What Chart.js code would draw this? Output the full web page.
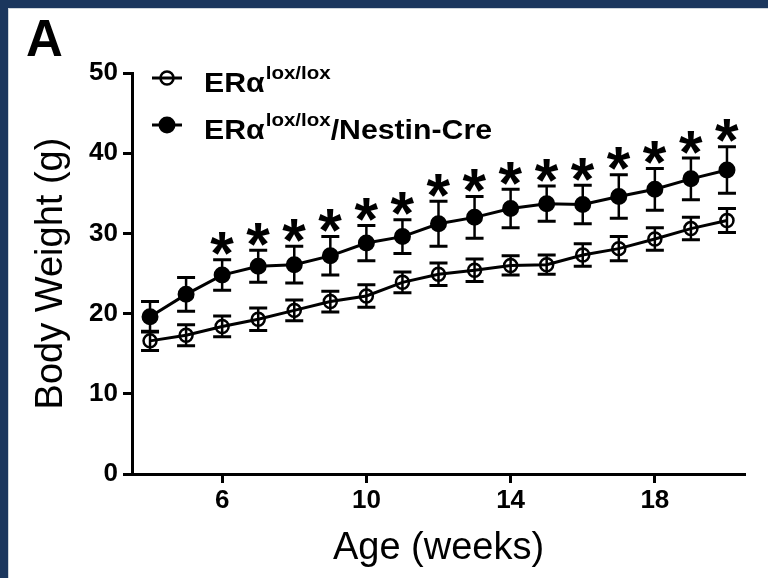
<!DOCTYPE html>
<html>
<head>
<meta charset="utf-8">
<script src="https://cdn.jsdelivr.net/npm/chart.js@4/dist/chart.umd.min.js"></script>
<style>
  html, body { margin: 0; padding: 0; }
  body { width: 768px; height: 578px; background: #1b365d; position: relative; overflow: hidden; }
  #panel { position: absolute; left: 8px; top: 8px; width: 760px; height: 570px; background: #fff; border-left: 1px solid #cfd5dc; border-top: 1px solid #cfd5dc; box-sizing: border-box; }
  #c { position: absolute; left: 0; top: 0; }
</style>
</head>
<body>
<div id="panel"></div>
<canvas id="c" width="768" height="578"></canvas>
<script>
// ---- data ----
const weeks = [4, 5, 6, 7, 8, 9, 10, 11, 12, 13, 14, 15, 16, 17, 18, 19, 20];
const ctrlMean = [16.6, 17.3, 18.4, 19.3, 20.4, 21.5, 22.2, 23.9, 24.9, 25.4, 26.0, 26.1, 27.3, 28.1, 29.3, 30.6, 31.6];
const ctrlErr  = [1.2, 1.3, 1.3, 1.4, 1.3, 1.3, 1.4, 1.3, 1.4, 1.4, 1.2, 1.2, 1.4, 1.5, 1.4, 1.4, 1.5];
const creMean  = [19.6, 22.4, 24.8, 25.9, 26.1, 27.2, 28.8, 29.6, 31.2, 32.0, 33.1, 33.7, 33.6, 34.6, 35.5, 36.8, 37.9];
const creErr   = [1.9, 2.1, 1.9, 2.0, 2.3, 2.4, 2.2, 2.1, 2.8, 2.6, 2.4, 2.2, 2.4, 2.7, 2.6, 2.6, 2.9];
const significant = [false, false, true, true, true, true, true, true, true, true, true, true, true, true, true, true, true];
const xTickValues = [6, 10, 14, 18];
const yTickValues = [0, 10, 20, 30, 40, 50];
const seriesNames = ['ERα', 'ERα'];
const seriesSup = ['lox/lox', 'lox/lox'];
const seriesSuffix = ['', '/Nestin-Cre'];
const panelLabel = 'A';
const xTitle = 'Age (weeks)';
const yTitle = 'Body Weight (g)';

const FONT = "'Liberation Sans', Arial, Helvetica, sans-serif";

const errorBars = {
  id: 'errorBars',
  beforeDatasetsDraw(chart) {
    const ctx = chart.ctx;
    const y = chart.scales.y;
    chart.data.datasets.forEach((ds, di) => {
      const meta = chart.getDatasetMeta(di);
      meta.data.forEach((pt, i) => {
        const v = ds.data[i].y, e = ds.errors[i];
        const yt = y.getPixelForValue(v + e), yb = y.getPixelForValue(v - e);
        ctx.save();
        ctx.strokeStyle = '#000';
        ctx.lineWidth = 2.5;
        ctx.beginPath();
        ctx.moveTo(pt.x, yt); ctx.lineTo(pt.x, yb);
        ctx.stroke();
        ctx.lineWidth = 3;
        ctx.beginPath();
        ctx.moveTo(pt.x - 9, yt); ctx.lineTo(pt.x + 9, yt);
        ctx.moveTo(pt.x - 9, yb); ctx.lineTo(pt.x + 9, yb);
        ctx.stroke();
        ctx.restore();
      });
    });
  },
  afterDatasetsDraw(chart) {
    const ctx = chart.ctx;
    const y = chart.scales.y;
    const ds = chart.data.datasets[1];
    const meta = chart.getDatasetMeta(1);
    ctx.save();
    ctx.font = 'bold 100px ' + FONT;
    let m = ctx.measureText('*');
    const h100 = m.actualBoundingBoxAscent + m.actualBoundingBoxDescent;
    const size = 100 * 23 / h100;
    ctx.font = 'bold ' + size + 'px ' + FONT;
    m = ctx.measureText('*');
    const inkMid = (m.actualBoundingBoxAscent - m.actualBoundingBoxDescent) / 2;
    const inkCx = (m.actualBoundingBoxRight - m.actualBoundingBoxLeft) / 2;
    ctx.fillStyle = '#000';
    ctx.textBaseline = 'alphabetic';
    ctx.textAlign = 'left';
    meta.data.forEach((pt, i) => {
      if (!ds.sig[i]) return;
      const capTop = y.getPixelForValue(ds.data[i].y + ds.errors[i]);
      const cy = capTop - 16;
      ctx.fillText('*', pt.x - inkCx, cy + inkMid);
    });
    ctx.restore();
  },
  afterDraw(chart) {
    const ctx = chart.ctx;
    ctx.save();
    // panel label
    ctx.fillStyle = '#000';
    ctx.font = 'bold 51px ' + FONT;
    ctx.textBaseline = 'alphabetic';
    ctx.textAlign = 'left';
    ctx.fillText(panelLabel, 26, 56);
    // legend
    const rows = [78, 125];
    const sx = 1.08;
    rows.forEach((ry, r) => {
      const ds = chart.data.datasets[r];
      ctx.strokeStyle = '#000';
      ctx.lineWidth = 3;
      ctx.beginPath();
      ctx.moveTo(152, ry); ctx.lineTo(182, ry);
      ctx.stroke();
      ctx.beginPath();
      ctx.arc(167, ry, ds.pointRadius, 0, Math.PI * 2);
      if (r === 1) { ctx.fillStyle = '#000'; ctx.fill(); }
      ctx.lineWidth = ds.pointBorderWidth;
      ctx.stroke();
      ctx.fillStyle = '#000';
      const base = ry + 14;
      ctx.save();
      ctx.scale(sx, 1);
      ctx.font = 'bold 28px ' + FONT;
      let x = 204 / sx;
      ctx.fillText(seriesNames[r], x, base);
      x += ctx.measureText(seriesNames[r]).width + 1;
      ctx.font = 'bold 19px ' + FONT;
      ctx.fillText(seriesSup[r], x, base - 13);
      x += ctx.measureText(seriesSup[r]).width;
      if (seriesSuffix[r]) {
        ctx.font = 'bold 28px ' + FONT;
        ctx.fillText(seriesSuffix[r], x, base);
      }
      ctx.restore();
    });
    ctx.restore();
  }
};

new Chart(document.getElementById('c'), {
  type: 'line',
  data: {
    datasets: [
      {
        label: seriesNames[0] + seriesSup[0] + seriesSuffix[0],
        data: weeks.map((w, i) => ({ x: w, y: ctrlMean[i] })),
        errors: ctrlErr,
        borderColor: '#000', borderWidth: 3,
        pointStyle: 'circle', pointRadius: 6.5, pointBorderWidth: 2.5,
        pointBackgroundColor: 'rgba(255,255,255,0)', pointBorderColor: '#000',
        tension: 0, fill: false
      },
      {
        label: seriesNames[1] + seriesSup[1] + seriesSuffix[1],
        data: weeks.map((w, i) => ({ x: w, y: creMean[i] })),
        errors: creErr, sig: significant,
        borderColor: '#000', borderWidth: 3,
        pointStyle: 'circle', pointRadius: 7.5, pointBorderWidth: 2,
        pointBackgroundColor: '#000', pointBorderColor: '#000',
        tension: 0, fill: false
      }
    ]
  },
  options: {
    responsive: false,
    animation: false,
    events: [],
    layout: { padding: { left: 0, top: 73, right: 23, bottom: 0 } },
    plugins: { legend: { display: false }, tooltip: { enabled: false }, title: { display: false } },
    scales: {
      x: {
        type: 'linear', min: 3.5, max: 20.5,
        afterBuildTicks: s => { s.ticks = xTickValues.map(v => ({ value: v })); },
        afterFit: s => { s.height = 104; },
        border: { color: '#000', width: 3 },
        grid: { drawOnChartArea: false, drawTicks: true, tickLength: 9, tickWidth: 3, tickColor: '#000' },
        ticks: { color: '#000', font: { family: FONT, size: 26, weight: 'bold' }, padding: 2, maxRotation: 0, autoSkip: false },
        title: { display: true, text: xTitle, color: '#000', font: { family: FONT, size: 38 }, padding: { top: 0, bottom: 7 } }
      },
      y: {
        min: 0, max: 50,
        afterBuildTicks: s => { s.ticks = yTickValues.map(v => ({ value: v })); },
        afterFit: s => { s.width = 132; },
        border: { color: '#000', width: 3 },
        grid: { drawOnChartArea: false, drawTicks: true, tickLength: 9, tickWidth: 3, tickColor: '#000' },
        ticks: { color: '#000', font: { family: FONT, size: 26, weight: 'bold' }, padding: 5, autoSkip: false },
        title: { display: true, text: yTitle, color: '#000', font: { family: FONT, size: 38 }, padding: { top: 29, bottom: 0 } }
      }
    }
  },
  plugins: [errorBars]
});
</script>
</body>
</html>
